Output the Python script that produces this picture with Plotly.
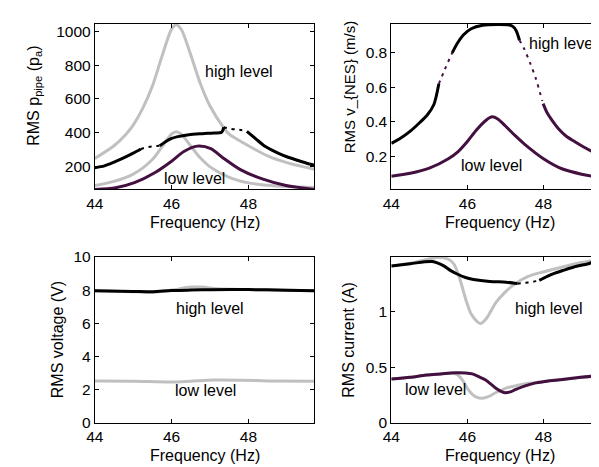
import plotly.graph_objects as go

W, H = 599, 467
FONT = "Liberation Sans, Arial, Helvetica, sans-serif"
GRAY = "#c0c0c0"
BLACK = "#000000"
PURPLE = "#43103f"

# ---------------- Panel 1: RMS pipe pressure ----------------
p_gray_hi_f = [44.0, 44.5, 44.8, 45.0, 45.25, 45.5, 45.75, 46.0, 46.12, 46.25, 46.5, 46.75, 47.0, 47.36, 47.5, 48.0, 48.5, 49.0, 49.72]
p_gray_hi_v = [247, 322, 388, 445, 545, 676, 853, 1014, 1040, 1013, 860, 690, 558, 428, 391, 322, 262, 222, 183]

p_gray_lo_f = [44.0, 44.5, 45.0, 45.5, 45.75, 46.0, 46.12, 46.25, 46.5, 46.75, 47.0, 47.5, 48.0, 48.5, 49.0, 49.72]
p_gray_lo_v = [86, 111, 154, 241, 316, 392, 405, 391, 320, 249, 197, 135, 102, 88, 80, 74]

p_purple_f = [44.0, 44.54, 45.05, 45.56, 45.99, 46.33, 46.67, 47.02, 47.36, 47.79, 48.38, 48.98, 49.72]
p_purple_v = [63, 73, 105, 162, 229, 290, 320, 305, 247, 181, 124, 86, 63]

p_blk1_f = [44.0, 44.25, 44.5, 44.75, 45.0, 45.2]
p_blk1_v = [192, 203, 225, 250, 278, 303]
p_dot1_f = [45.2, 45.35, 45.5, 45.69]
p_dot1_v = [303, 313, 319, 322]
p_blk2_f = [45.69, 45.85, 46.0, 46.2, 46.45, 46.8, 47.1, 47.3, 47.36]
p_blk2_v = [322, 348, 366, 378, 388, 394, 398, 402, 432]
p_dot2_f = [47.36, 47.5, 47.7, 47.96]
p_dot2_v = [432, 424, 418, 412]
p_blk3_f = [47.96, 48.2, 48.4, 48.6, 48.8, 49.0, 49.25, 49.5, 49.72]
p_blk3_v = [408, 362, 324, 298, 276, 257, 238, 220, 207]

# ---------------- Panel 2: RMS v_NES ----------------
v_purple_f = [44.0, 44.5, 45.0, 45.5, 45.75, 46.0, 46.25, 46.5, 46.65, 46.8, 47.0, 47.25, 47.5, 48.0, 48.5, 49.0, 49.67]
v_purple_v = [0.083, 0.100, 0.130, 0.185, 0.225, 0.285, 0.355, 0.410, 0.428, 0.415, 0.375, 0.320, 0.270, 0.185, 0.125, 0.095, 0.069]

v_blk1_f = [44.0, 44.25, 44.5, 44.75, 44.95, 45.12, 45.25]
v_blk1_v = [0.274, 0.305, 0.345, 0.395, 0.44, 0.50, 0.62]
v_dot1_f = [45.25, 45.4, 45.6]
v_dot1_v = [0.62, 0.70, 0.80]
v_blk2_f = [45.6, 45.75, 45.9, 46.1, 46.4, 46.8, 47.1, 47.2, 47.28, 47.37]
v_blk2_v = [0.80, 0.86, 0.905, 0.94, 0.96, 0.965, 0.962, 0.952, 0.93, 0.873]
v_dot2_f = [47.37, 47.5, 47.65, 47.8, 47.97]
v_dot2_v = [0.873, 0.82, 0.74, 0.65, 0.52]
v_pur2_f = [47.99, 48.1, 48.25, 48.4, 48.6, 48.83, 49.0, 49.25, 49.5, 49.67]
v_pur2_v = [0.505, 0.45, 0.40, 0.357, 0.315, 0.283, 0.26, 0.23, 0.205, 0.19]

# ---------------- Panel 3: RMS voltage ----------------
u_gray_hi_f = [44.0, 45.0, 45.5, 46.0, 46.5, 46.8, 47.2, 48.0, 49.0, 49.72]
u_gray_hi_v = [7.96, 7.90, 7.86, 8.00, 8.18, 8.18, 8.08, 8.03, 7.99, 7.96]
u_black_f = [44.0, 45.0, 45.5, 46.0, 46.5, 47.0, 48.0, 49.0, 49.72]
u_black_v = [7.96, 7.92, 7.90, 7.97, 8.00, 8.02, 8.03, 7.99, 7.96]
u_gray_lo_f = [44.0, 45.0, 46.0, 46.5, 47.1, 47.8, 48.5, 49.72]
u_gray_lo_v = [2.52, 2.50, 2.45, 2.50, 2.57, 2.56, 2.52, 2.50]

# ---------------- Panel 4: RMS current ----------------
i_gray_hi_f = [44.0, 44.5, 44.9, 45.2, 45.5, 45.65, 45.8, 45.96, 46.1, 46.25, 46.35, 46.5, 46.74, 47.0, 47.26, 47.6, 47.95, 48.5, 49.0, 49.67]
i_gray_hi_v = [1.415, 1.44, 1.47, 1.492, 1.475, 1.43, 1.30, 1.11, 0.98, 0.915, 0.895, 0.94, 1.08, 1.18, 1.255, 1.32, 1.357, 1.405, 1.445, 1.49]
i_gray_lo_f = [44.0, 44.5, 44.92, 45.3, 45.6, 45.75, 45.87, 46.0, 46.13, 46.25, 46.39, 46.55, 46.74, 47.0, 47.3, 47.6, 48.0, 48.38, 49.0, 49.67]
i_gray_lo_v = [0.394, 0.41, 0.43, 0.44, 0.45, 0.43, 0.385, 0.31, 0.255, 0.228, 0.22, 0.235, 0.27, 0.31, 0.335, 0.355, 0.372, 0.387, 0.412, 0.432]
i_purple_f = [44.0, 44.5, 44.92, 45.3, 45.7, 45.95, 46.13, 46.3, 46.48, 46.74, 46.9, 47.0, 47.15, 47.26, 47.5, 47.77, 48.0, 48.38, 49.0, 49.67]
i_purple_v = [0.394, 0.41, 0.43, 0.44, 0.45, 0.448, 0.44, 0.415, 0.385, 0.313, 0.28, 0.27, 0.28, 0.298, 0.33, 0.357, 0.37, 0.385, 0.41, 0.43]
i_blk1_f = [44.0, 44.5, 45.08, 45.38, 45.55, 45.73, 45.95, 46.16, 46.59, 47.02, 47.32]
i_blk1_v = [1.415, 1.435, 1.455, 1.415, 1.375, 1.342, 1.31, 1.293, 1.275, 1.268, 1.255]
i_dot_f = [47.32, 47.5, 47.7, 47.89]
i_dot_v = [1.255, 1.262, 1.27, 1.284]
i_blk2_f = [47.89, 48.1, 48.3, 48.49, 48.8, 49.18, 49.45, 49.67]
i_blk2_v = [1.284, 1.32, 1.35, 1.371, 1.405, 1.435, 1.465, 1.487]

# tick labels
p_ticks = [200, 400, 600, 800, 1000]
v_ticks = [0.2, 0.4, 0.6, 0.8]
u_ticks = [0, 2, 4, 6, 8, 10]
i_ticks = [0, 0.5, 1]
i_ticktext = ["0", "0.5", "1"]
f_ticks = [44, 46, 48]

fig = go.Figure()


def add(xs, ys, color, xa, ya, dash="solid", width=3.0):
    fig.add_trace(go.Scatter(
        x=xs, y=ys, mode="lines", xaxis=xa, yaxis=ya,
        line=dict(color=color, width=width, dash=dash, shape="spline", smoothing=0.8),
        showlegend=False, hoverinfo="skip"))


DOT = "3px,5px"
# panel 1
add(p_gray_hi_f, p_gray_hi_v, GRAY, "x", "y")
add(p_gray_lo_f, p_gray_lo_v, GRAY, "x", "y")
add(p_purple_f, p_purple_v, PURPLE, "x", "y")
add(p_blk1_f, p_blk1_v, BLACK, "x", "y")
add(p_dot1_f, p_dot1_v, BLACK, "x", "y", DOT, 2)
add(p_blk2_f, p_blk2_v, BLACK, "x", "y")
add(p_dot2_f, p_dot2_v, BLACK, "x", "y", DOT, 2)
add(p_blk3_f, p_blk3_v, BLACK, "x", "y")
# panel 2
add(v_purple_f, v_purple_v, PURPLE, "x2", "y2")
add(v_blk1_f, v_blk1_v, BLACK, "x2", "y2")
add(v_dot1_f, v_dot1_v, PURPLE, "x2", "y2", DOT, 2)
add(v_blk2_f, v_blk2_v, BLACK, "x2", "y2")
add(v_dot2_f, v_dot2_v, PURPLE, "x2", "y2", DOT, 2)
add(v_pur2_f, v_pur2_v, PURPLE, "x2", "y2")
# panel 3
add(u_gray_hi_f, u_gray_hi_v, GRAY, "x3", "y3")
add(u_black_f, u_black_v, BLACK, "x3", "y3")
add(u_gray_lo_f, u_gray_lo_v, GRAY, "x3", "y3")
# panel 4
add(i_gray_hi_f, i_gray_hi_v, GRAY, "x4", "y4")
add(i_gray_lo_f, i_gray_lo_v, GRAY, "x4", "y4")
add(i_purple_f, i_purple_v, PURPLE, "x4", "y4")
add(i_blk1_f, i_blk1_v, BLACK, "x4", "y4")
add(i_dot_f, i_dot_v, BLACK, "x4", "y4", DOT, 2)
add(i_blk2_f, i_blk2_v, BLACK, "x4", "y4")

TICKFONT = dict(family=FONT, size=15.5, color="black")


def xax(dom, rng, anchor):
    return dict(domain=dom, range=rng, anchor=anchor, tickvals=f_ticks,
                ticks="inside", ticklen=4, tickwidth=1, tickcolor="black",
                showline=True, linecolor="black", linewidth=1, mirror="allticks",
                showgrid=False, zeroline=False, tickfont=TICKFONT)


def yax(dom, rng, anchor, tv, tt=None, mirror="allticks"):
    d = dict(domain=dom, range=rng, anchor=anchor, tickvals=tv,
             ticks="inside", ticklen=4, tickwidth=1, tickcolor="black",
             showline=True, linecolor="black", linewidth=1, mirror=mirror,
             showgrid=False, zeroline=False, tickfont=TICKFONT)
    if tt is not None:
        d["ticktext"] = tt
    return d


xL = [79 / W, 302 / W]
xR = [380 / W, 1.0]
yT = [1 - 179 / H, 1 - 7 / H]
yB = [1 - 421 / H, 1 - 249 / H]
fL = [44, 49.72]
fR = [44, 49.67]

fig.update_layout(
    width=W, height=H,
    margin=dict(l=0, r=0, t=0, b=0),
    paper_bgcolor="white", plot_bgcolor="white",
    font=dict(family=FONT, size=16, color="black"),
    xaxis=xax(xL, fL, "y"),
    yaxis=yax(yT, [62.9, 1045.7], "x", p_ticks),
    xaxis2=xax(xR, fR, "y2"),
    yaxis2=yax(yT, [0.006, 0.969], "x2", v_ticks, ["0.2", "0.4", "0.6", "0.8"], mirror=False),
    xaxis3=xax(xL, fL, "y3"),
    yaxis3=yax(yB, [0, 10], "x3", u_ticks),
    xaxis4=xax(xR, fR, "y4"),
    yaxis4=yax(yB, [0, 1.496], "x4", i_ticks, i_ticktext, mirror=False),
)


def ann(text, px, py, size=16, angle=0):
    fig.add_annotation(text=text, x=px / W, y=1 - py / H, xref="paper", yref="paper",
                       showarrow=False, textangle=angle, xanchor="center", yanchor="middle",
                       font=dict(family=FONT, size=size, color="black"))


# level labels
ann("high level", 225, 57)
ann("low level", 180.5, 168)
ann("high level", 554, 27)
ann("low level", 481.5, 154)
ann("high level", 196, 303)
ann("low level", 191, 388)
ann("high level", 540, 302)
ann("low level", 425, 387)
# axis titles
ann("Frequency (Hz)", 190.5, 213)
ann("Frequency (Hz)", 490, 213)
ann("Frequency (Hz)", 190.5, 455)
ann("Frequency (Hz)", 490, 455)
ann("RMS p<sub>pipe</sub> (p<sub>a</sub>)", 17, 82, angle=-90)
ann("RMS v_{NES} (m/s)", 337, 72, size=15, angle=-90)
ann("RMS voltage (V)", 41, 335, angle=-90)
ann("RMS current (A)", 337, 335, angle=-90)

fig.write_html("out.html")
